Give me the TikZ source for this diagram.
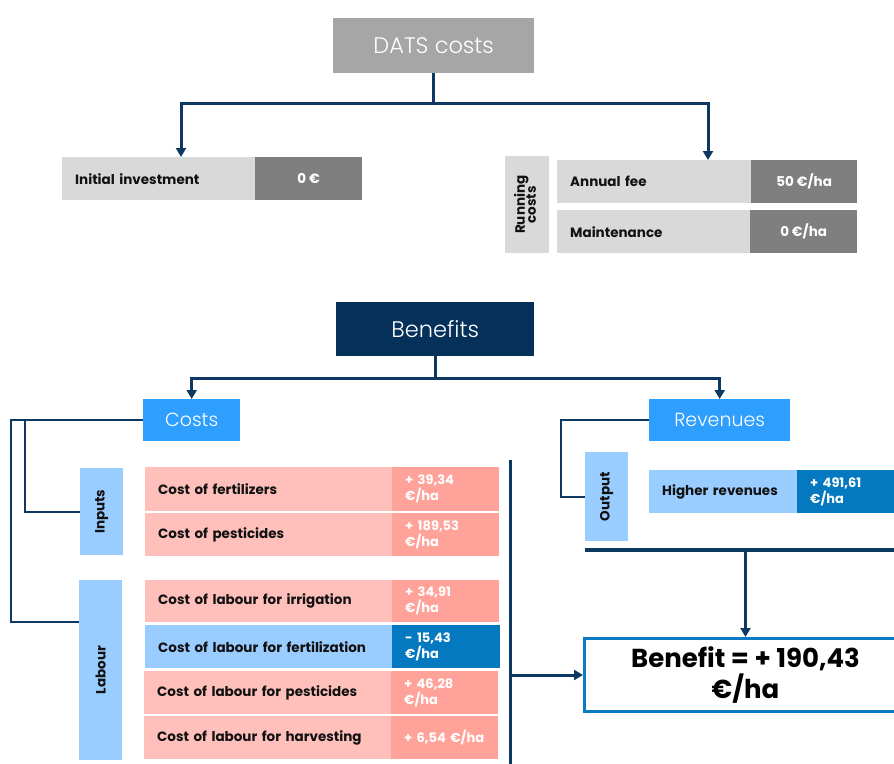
\documentclass[tikz,border=0pt]{standalone}
\usepackage{fontspec}
\setmainfont{Poppins}
\newfontfamily\lightfont{Poppins Light}
\usepackage{graphicx}
\usetikzlibrary{arrows.meta}

\definecolor{linenavy}{HTML}{0D3862}
\definecolor{boxnavy}{HTML}{05305A}
\definecolor{headgray}{HTML}{A6A6A6}
\definecolor{cellgray}{HTML}{D9D9D9}
\definecolor{valgray}{HTML}{7F7F7F}
\definecolor{brightblue}{HTML}{2E9EFF}
\definecolor{paleblue}{HTML}{99CCFF}
\definecolor{deepblue}{HTML}{0479C0}
\definecolor{costpink}{HTML}{FFC0BC}
\definecolor{costsalmon}{HTML}{FFA39A}
\definecolor{frameblue}{HTML}{0B7BC6}
\definecolor{inkblack}{HTML}{111111}

\begin{document}
\begin{tikzpicture}[x=1pt,y=-1pt,
  head/.style={anchor=north west, inner sep=0pt, text=white,
    font=\lightfont\fontsize{22.5}{27}\selectfont},
  sub/.style={anchor=north west, inner sep=0pt, text=white, fill=brightblue,
    minimum height=42pt, font=\lightfont\fontsize{19}{23}\selectfont},
  lab/.style={anchor=north west, inner xsep=13pt, inner ysep=0pt, align=left,
    minimum height=43pt, text=inkblack, font=\bfseries\fontsize{13.5}{16}\selectfont},
  val/.style={anchor=north west, inner sep=0pt, align=center, text=white,
    minimum height=43pt, font=\bfseries\fontsize{13.5}{16}\selectfont},
  cval/.style={anchor=north west, inner xsep=13pt, inner ysep=0pt, align=left,
    text width=81pt, text=white, minimum height=43pt,
    font=\bfseries\fontsize{13}{16}\selectfont},
  side/.style={anchor=north west, inner sep=0pt, minimum width=43pt,
    text=inkblack, font=\bfseries\fontsize{13.5}{15}\selectfont},
  conn/.style={draw=linenavy, line width=3pt},
  arr/.style={conn, line join=miter, -{Triangle[width=10pt,length=9pt]}},
  branch/.style={draw=linenavy, line width=1.6pt, line join=miter}]

\useasboundingbox (0,0) rectangle (894,763);
\clip (0,0) rectangle (894,763);

% ---------- DATS costs ----------
\node[head, fill=headgray, minimum width=201pt, minimum height=55pt] (dats) at (333,18) {DATS costs};

\node[lab, fill=cellgray, minimum width=193pt, text width=167pt] (initlab) at (62,157) {Initial investment};
\node[val, fill=valgray, minimum width=107pt] (initval) at (255,157) {0 €};

\node[side, fill=cellgray, minimum width=44pt, minimum height=97pt] (runcosts) at (505,156)
  {\rotatebox{90}{\begin{tabular}{@{}c@{}}Running\\[-4pt]costs\end{tabular}}};
\node[lab, fill=cellgray, minimum width=194pt, text width=168pt] (annlab) at (557,160) {Annual fee};
\node[val, fill=valgray, minimum width=106pt] (annval) at (751,160) {50 €/ha};
\node[lab, fill=cellgray, minimum width=193pt, text width=167pt] (mntlab) at (557,210) {Maintenance};
\node[val, fill=valgray, minimum width=107pt] (mntval) at (750,210) {0 €/ha};

\draw[conn] (dats.south) -- ++(0,30) coordinate (datsj);
\draw[arr] (datsj) -| ([xshift=119pt]initlab.north west);
\draw[arr] (datsj) -| ([xshift=151pt]annlab.north west);

% ---------- Benefits ----------
\node[head, fill=boxnavy, minimum width=198pt, minimum height=54pt] (benefits) at (336,302) {Benefits};
\node[sub, minimum width=97pt] (costs) at (143,399) {Costs};
\node[sub, minimum width=141pt] (revenues) at (649,399) {Revenues};

\draw[conn] (benefits.south) -- ++(0,22) coordinate (benj);
\draw[arr] (benj) -| (costs.north);
\draw[arr] (benj) -| (revenues.north);

% cost groups
\node[side, fill=paleblue, minimum height=87pt] (inputs) at (80,468) {\rotatebox{90}{Inputs}};
\node[side, fill=paleblue, minimum height=180pt] (labour) at (79,580) {\rotatebox{90}{Labour}};

\draw[branch] (costs.west) -- ++(-132,0) |- ([yshift=-42pt]labour.north west);
\draw[branch] ([xshift=-118pt]costs.west) |- ([yshift=-44pt]inputs.north west);

% cost rows
\node[lab, fill=costpink, minimum width=247pt, text width=221pt, minimum height=44pt] (fertlab) at (145,467) {Cost of fertilizers};
\node[cval, fill=costsalmon, minimum height=44pt] (fertval) at (392,467) {+ 39,34\\€/ha};
\node[lab, fill=costpink, minimum width=247pt, text width=221pt] (pestlab) at (145,513) {Cost of pesticides};
\node[cval, fill=costsalmon] (pestval) at (392,513) {+ 189,53\\€/ha};

\node[lab, fill=costpink, minimum width=247pt, text width=221pt, minimum height=42pt] (irrlab) at (145,580) {Cost of labour for irrigation};
\node[cval, fill=costsalmon, minimum height=42pt] (irrval) at (392,580) {+ 34,91\\€/ha};
\node[lab, fill=paleblue, minimum width=247pt, text width=221pt] (lfertlab) at (145,625) {Cost of labour for fertilization};
\node[cval, fill=deepblue, text width=82pt] (lfertval) at (392,625) {- 15,43\\€/ha};
\node[lab, fill=costpink, minimum width=247pt, text width=221pt] (lpestlab) at (144,671) {Cost of labour for pesticides};
\node[cval, fill=costsalmon] (lpestval) at (391,671) {+ 46,28\\€/ha};
\node[lab, fill=costpink, minimum width=247pt, text width=221pt] (harvlab) at (144,716) {Cost of labour for harvesting};
\node[cval, fill=costsalmon] (harvval) at (391,716) {\mbox{+ 6,54 €/ha}};

% revenues side
\node[side, fill=paleblue, minimum height=89pt] (output) at (585,452) {\rotatebox{90}{Output}};
\draw[branch] (revenues.west) -- ++(-88,0) |- ([yshift=-45pt]output.north west);

\node[lab, fill=paleblue, minimum width=148pt, text width=122pt] (hrevlab) at (649,470) {Higher revenues};
\node[cval, fill=deepblue, text width=74pt] (hrevval) at (797,470) {+ 491,61\\€/ha};

% totals
\coordinate (bartop) at (510,460);
\coordinate (barbot) at (510,766);
\draw[conn] (bartop) -- (barbot);

\coordinate (revbarl) at (585,550);
\coordinate (revbarr) at (900,550);
\draw[conn, line width=4pt] (revbarl) -- (revbarr);

\node[anchor=north west, draw=frameblue, line width=3pt, fill=white, inner sep=0pt,
  minimum width=322pt, minimum height=73pt, align=center, text=black,
  font=\bfseries\fontsize{26}{31}\selectfont] (benefit) at (583,637) {Benefit = + 190,43\\€/ha};

\draw[arr] (bartop |- benefit.west) -- (benefit.west);
\draw[arr] (benefit.north |- revbarl) -- (benefit.north);

\end{tikzpicture}
\end{document}
